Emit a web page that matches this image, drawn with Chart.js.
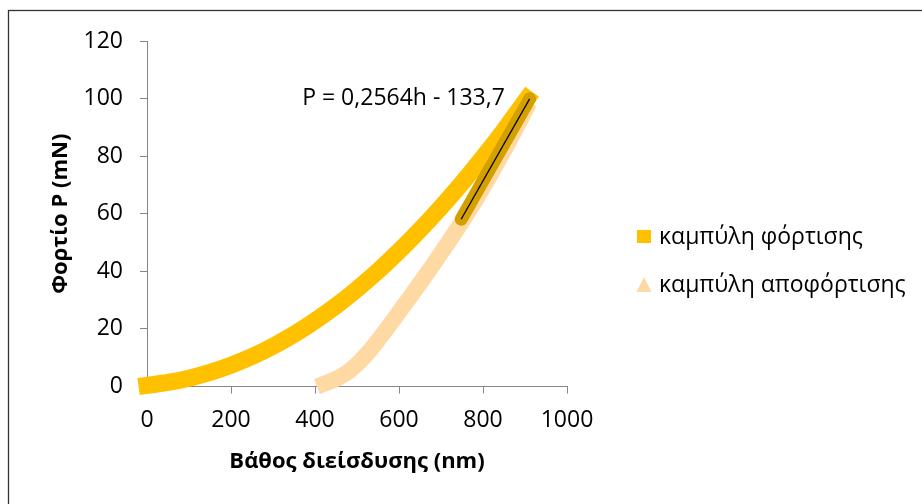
<!DOCTYPE html>
<html>
<head>
<meta charset="utf-8">
<script src="https://cdn.jsdelivr.net/npm/chart.js@4"></script>
<style>
  html, body { margin: 0; padding: 0; background: #fff; }
  #wrap { width: 922px; height: 504px; }
</style>
</head>
<body>
<div id="wrap"><canvas id="chart" width="922" height="504"></canvas></div>
<script>
// loading curve (depth nm, load mN)
const loadDepth = [0, 50, 100, 150, 200, 250, 300, 350, 400, 450, 500, 550, 600, 650, 700, 750, 800, 850, 880, 905];
const loadForce = [0.4, 1.4, 2.9, 4.9, 7.4, 10.4, 14.0, 18.1, 22.8, 28.0, 33.8, 40.1, 47.0, 54.4, 62.3, 70.7, 79.6, 89.0, 95.0, 100];

// unloading curve
const unloadDepth = [405, 430, 455, 480, 505, 530, 555, 580, 605, 630, 655, 680, 705, 730, 755, 790, 820, 850, 880, 910];
const unloadForce = [0, 1.4, 3.0, 5.2, 8.4, 12.4, 17.0, 21.8, 26.8, 31.8, 36.9, 42.1, 47.4, 52.8, 58.4, 66.6, 74.1, 81.9, 90.0, 98.6];

// linear fit on the upper unloading part
const trendDepth = [748, 911];
const trendForce = [58.1, 99.9];
const trendLabel = 'P = 0,2564h - 133,7';

const xTicks = [0, 200, 400, 600, 800, 1000];
const yTicks = [0, 20, 40, 60, 80, 100, 120];

const seriesNames = ['καμπύλη φόρτισης', 'καμπύλη αποφόρτισης'];
const xTitle = 'Βάθος διείσδυσης (nm)';
const yTitle = 'Φορτίο P (mN)';

const FONT = "'Open Sans', 'Noto Sans', sans-serif";
const LOAD_COLOR = '#FFC000';
const UNLOAD_COLOR = '#FFD9A3';

function toPoints(xs, ys) {
  return xs.map((x, i) => ({ x: x, y: ys[i] }));
}

// frame, legend and equation text
const extrasPlugin = {
  id: 'extras',
  beforeDraw(chart) {
    const ctx = chart.ctx;
    ctx.save();
    ctx.fillStyle = '#fff';
    ctx.fillRect(0, 0, chart.width, chart.height);
    ctx.restore();
  },
  afterDraw(chart) {
    const ctx = chart.ctx;
    const xs = chart.scales.x;
    const ys = chart.scales.y;
    ctx.save();
    // outer frame (only top/left edges are inside the picture)
    ctx.strokeStyle = '#333';
    ctx.lineWidth = 1.3;
    ctx.strokeRect(8.5, 10.5, 1200, 800);

    // equation
    ctx.fillStyle = '#000';
    ctx.font = '23px ' + FONT;
    ctx.textAlign = 'right';
    ctx.textBaseline = 'middle';
    ctx.fillText(trendLabel, xs.getPixelForValue(852), ys.getPixelForValue(100));

    // legend
    const lx = 637, rows = [237, 285];
    ctx.textAlign = 'left';
    ctx.fillStyle = LOAD_COLOR;
    ctx.fillRect(lx, rows[0] - 7, 14, 13);
    ctx.fillStyle = UNLOAD_COLOR;
    ctx.beginPath();
    ctx.moveTo(lx + 7, rows[1] - 8);
    ctx.lineTo(lx + 14.5, rows[1] + 7);
    ctx.lineTo(lx - 0.5, rows[1] + 7);
    ctx.closePath();
    ctx.fill();
    ctx.fillStyle = '#000';
    ctx.fillText(seriesNames[0], lx + 22, rows[0]);
    ctx.fillText(seriesNames[1], lx + 22, rows[1]);
    ctx.restore();
  }
};

const axisColor = '#868686';

new Chart(document.getElementById('chart'), {
  type: 'scatter',
  data: {
    datasets: [
      {
        label: seriesNames[0],
        data: toPoints(loadDepth, loadForce),
        showLine: true,
        borderColor: LOAD_COLOR,
        borderWidth: 17,
        borderCapStyle: 'square',
        borderJoinStyle: 'round',
        cubicInterpolationMode: 'monotone',
        pointRadius: 0,
        clip: false,
        order: 4
      },
      {
        label: seriesNames[1],
        data: toPoints(unloadDepth, unloadForce),
        showLine: true,
        borderColor: UNLOAD_COLOR,
        borderWidth: 16,
        borderCapStyle: 'butt',
        borderJoinStyle: 'round',
        cubicInterpolationMode: 'monotone',
        pointRadius: 0,
        clip: false,
        order: 3
      },
      {
        label: 'fit glow',
        data: toPoints(trendDepth, trendForce),
        showLine: true,
        borderColor: '#D4A000',
        borderWidth: 13,
        borderCapStyle: 'round',
        pointRadius: 0,
        clip: false,
        order: 2
      },
      {
        label: 'fit',
        data: toPoints(trendDepth, trendForce),
        showLine: true,
        borderColor: '#000',
        borderWidth: 1.3,
        pointRadius: 0,
        clip: false,
        order: 1
      }
    ]
  },
  options: {
    responsive: false,
    animation: false,
    events: [],
    layout: { padding: { left: 48, right: 355, top: 41, bottom: 27.5 } },
    plugins: {
      legend: { display: false },
      tooltip: { enabled: false }
    },
    scales: {
      x: {
        type: 'linear',
        min: xTicks[0],
        max: xTicks[xTicks.length - 1],
        afterBuildTicks: s => { s.ticks = xTicks.map(v => ({ value: v })); },
        afterFit: s => { s.height = 90; },
        border: { color: axisColor, width: 1 },
        grid: { drawOnChartArea: false, drawTicks: true, tickLength: 7, color: axisColor },
        ticks: { color: '#000', padding: 13, font: { family: FONT, size: 23 }, callback: v => String(v) },
        title: {
          display: true, text: xTitle, color: '#000',
          padding: { top: 0, bottom: 2 },
          font: { family: FONT, size: 22, weight: 'bold' }
        }
      },
      y: {
        type: 'linear',
        min: yTicks[0],
        max: yTicks[yTicks.length - 1],
        afterBuildTicks: s => { s.ticks = yTicks.map(v => ({ value: v })); },
        afterFit: s => { s.width = 99; },
        border: { color: axisColor, width: 1 },
        grid: { drawOnChartArea: false, drawTicks: true, tickLength: 7, color: axisColor },
        ticks: { color: '#000', padding: 17, font: { family: FONT, size: 23 }, callback: v => String(v) },
        title: {
          display: true, text: yTitle, color: '#000',
          padding: { top: 0, bottom: 0 },
          font: { family: FONT, size: 22, weight: 'bold' }
        }
      }
    }
  },
  plugins: [extrasPlugin]
});
</script>
</body>
</html>
